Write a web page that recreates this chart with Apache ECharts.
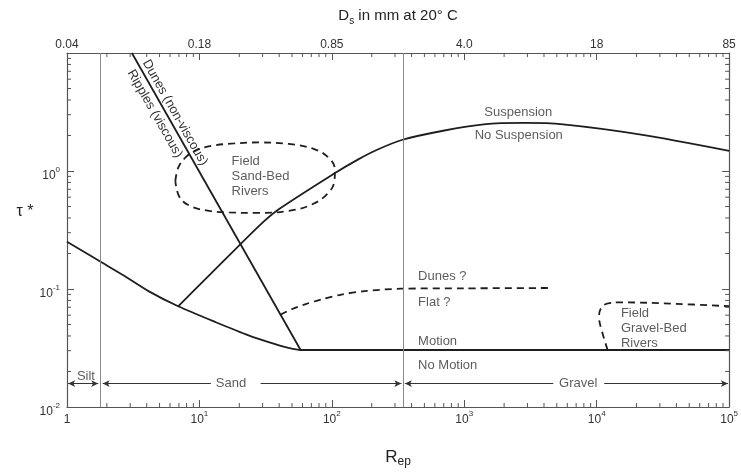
<!DOCTYPE html>
<html>
<head>
<meta charset="utf-8">
<script src="https://cdn.jsdelivr.net/npm/echarts@6.0.0/dist/echarts.min.js"></script>
</head>
<body style="margin: 0">
<div id="container" style="width: 741px; height: 473px;"></div>
<script>
// top axis: grain size (mm at 20 C) at each decade of Rep
const dsDecades = [1, 10, 100, 1000, 10000, 100000];
const dsLabels = ['0.04', '0.18', '0.85', '4.0', '18', '85'];

// threshold of motion
const motionRep = [1, 1.77, 2.72, 4.19, 6.91, 13.3, 23.5, 37.3, 46.9, 58.1, 300, 3000, 100000];
const motionTau = [0.2515, 0.1717, 0.129, 0.095, 0.0714, 0.0523, 0.0405, 0.0341, 0.0317, 0.0304, 0.0304, 0.0304, 0.0304];

// suspension / no suspension
const suspRep = [6.91, 12.0, 28.1, 39.5, 102, 157, 222, 342, 693, 1400, 2810, 5570, 22200, 100000];
const suspTau = [0.0714, 0.1322, 0.3413, 0.472, 0.938, 1.249, 1.521, 1.84, 2.193, 2.483, 2.555, 2.483, 2.024, 1.483];

// ripples / dunes boundary
const rippleRep = [3.09, 58.1];
const rippleTau = [10, 0.0304];

// dunes ? / flat ?
const dunesRep = [41.0, 49.7, 62.7, 83.4, 118, 176, 332, 1000, 4300];
const dunesTau = [0.0605, 0.0674, 0.0742, 0.0816, 0.0897, 0.0959, 0.1006, 0.1013, 0.102];

// field sand-bed rivers (closed loop)
const sandRep = [6.58, 6.93, 7.82, 9.3, 12.27, 18.25, 28.1, 47.2, 72.8, 94.3, 105.5, 104.6, 92.7, 70.3, 47.2, 28.1, 16.74, 11.25, 8.38, 7.05, 6.58];
const sandTau = [0.821, 1.072, 1.298, 1.483, 1.632, 1.712, 1.745, 1.695, 1.541, 1.298, 1.032, 0.821, 0.6408, 0.519, 0.4587, 0.4416, 0.4458, 0.4631, 0.5094, 0.6049, 0.821];

// field gravel-bed rivers
const gravelRep = [12100, 10980, 10420, 10790, 12180, 15240, 39360, 100000];
const gravelTau = [0.0304, 0.0435, 0.0579, 0.0687, 0.0756, 0.077, 0.0749, 0.0714];

// silt / sand / gravel limits
const classBounds = [1.77, 345];
const classArrowTau = 0.0158;
const classSegFrom = [1.02, 1.86, 29.0, 356, 11400];
const classSegTo = [1.72, 12.2, 335, 4700, 98000];
const classSegArrowFrom = [true, true, false, true, false];
const classSegArrowTo = [true, false, true, false, true];

// region labels: [Rep, tau, text, align]
const regionLabels = [
  [2560, 3.163, 'Suspension', 'center'],
  [2580, 1.986, 'No Suspension', 'center'],
  [448, 0.1272, 'Dunes ?', 'left'],
  [448, 0.0766, 'Flat ?', 'left'],
  [448, 0.0357, 'Motion', 'left'],
  [448, 0.0224, 'No Motion', 'left'],
  [17.5, 0.898, 'Field\nSand-Bed\nRivers', 'left'],
  [15240, 0.0466, 'Field\nGravel-Bed\nRivers', 'left'],
  [1.39, 0.0183, 'Silt', 'center'],
  [17.3, 0.0158, 'Sand', 'center'],
  [7256, 0.0158, 'Gravel', 'center']
];

// points on the ripples / dunes line next to which its two labels sit
const dunesLabelAt = [5.79, 2.893];
const ripplesLabelAt = [5.36, 3.37];

const FONT = 'Liberation Sans, Arial, sans-serif';
const solid = { color: '#1e1e1e', width: 1.8 };
const dashed = { color: '#1e1e1e', width: 1.8, type: [7, 5] };

function pairs(xs, ys) {
  return xs.map((x, i) => [x, ys[i]]);
}

// minor log ticks on all four sides
const minorTicks = [];
for (let e = 0; e < 5; e++) {
  for (let m = 2; m <= 9; m++) {
    const v = m * Math.pow(10, e);
    minorTicks.push([v, 0.01, 0], [v, 10, 1]);
  }
}
for (let e = -2; e < 1; e++) {
  for (let m = 2; m <= 9; m++) {
    const v = m * Math.pow(10, e);
    minorTicks.push([1, v, 2], [100000, v, 3]);
  }
}

const supRich = {
  s: { fontSize: 8, verticalAlign: 'top', lineHeight: 10, color: '#333', fontFamily: FONT }
};

const axisCommon = {
  type: 'log',
  logBase: 10,
  axisLine: { show: true, onZero: false, lineStyle: { color: '#555', width: 1.2 } },
  axisTick: { show: true, inside: true, length: 7, lineStyle: { color: '#555' } },
  splitLine: { show: false },
  minorTick: { show: false }
};

var myChart = echarts.init(document.getElementById('container'), null, { renderer: 'canvas' });

var option = {
  animation: false,
  textStyle: { fontFamily: FONT },
  grid: { left: 67, right: 8, top: 53, bottom: 58 },
  xAxis: [
    Object.assign({}, axisCommon, {
      position: 'bottom',
      min: 1,
      max: 100000,
      axisLabel: {
        color: '#333', fontSize: 12, lineHeight: 20, margin: 3,
        formatter: function (v) {
          const e = Math.round(Math.log10(v));
          return e === 0 ? '1' : '10{s|' + e + '}';
        },
        rich: supRich
      },
      name: 'R{s|ep}',
      nameLocation: 'middle',
      nameGap: 39,
      nameTextStyle: {
        color: '#222', fontSize: 17, lineHeight: 22,
        rich: { s: { fontSize: 12, verticalAlign: 'bottom', lineHeight: 12, color: '#222', fontFamily: FONT } }
      }
    }),
    Object.assign({}, axisCommon, {
      position: 'top',
      min: 1,
      max: 100000,
      axisLabel: {
        color: '#333', fontSize: 12, margin: 2,
        formatter: function (v) {
          return dsLabels[dsDecades.indexOf(Math.round(v))];
        }
      },
      name: 'D{s|s} in mm at 20° C',
      nameLocation: 'middle',
      nameGap: 27,
      nameTextStyle: {
        color: '#222', fontSize: 15, lineHeight: 20,
        rich: { s: { fontSize: 10, verticalAlign: 'bottom', lineHeight: 10, color: '#222', fontFamily: FONT } }
      }
    })
  ],
  yAxis: [
    Object.assign({}, axisCommon, {
      position: 'left',
      min: 0.01,
      max: 10,
      axisLabel: {
        color: '#333', fontSize: 12, lineHeight: 20, margin: 7, padding: [10, 0, 0, 0],
        formatter: function (v) {
          const e = Math.round(Math.log10(v));
          return e === 1 ? '' : '10{s|' + e + '}';
        },
        rich: supRich
      }
    }),
    Object.assign({}, axisCommon, {
      position: 'right',
      min: 0.01,
      max: 10,
      axisLabel: { show: false }
    })
  ],
  series: [
    {
      type: 'line', data: pairs(motionRep, motionTau), smooth: 0.25,
      symbol: 'none', lineStyle: solid, silent: true
    },
    {
      type: 'line', data: pairs(suspRep, suspTau), smooth: 0.25,
      symbol: 'none', lineStyle: solid, silent: true
    },
    {
      type: 'line', data: pairs(rippleRep, rippleTau),
      symbol: 'none', lineStyle: solid, silent: true
    },
    {
      type: 'line', data: pairs(dunesRep, dunesTau), smooth: 0.3,
      symbol: 'none', lineStyle: dashed, silent: true
    },
    {
      type: 'line', data: pairs(sandRep, sandTau), smooth: 0.4,
      symbol: 'none', lineStyle: dashed, silent: true
    },
    {
      type: 'line', data: pairs(gravelRep, gravelTau), smooth: 0.4,
      symbol: 'none', lineStyle: dashed, silent: true
    },
    {
      // silt/sand and sand/gravel limits
      type: 'line', data: [],
      markLine: {
        silent: true, symbol: 'none', label: { show: false },
        lineStyle: { color: '#8a8a8a', width: 1, type: 'solid' },
        data: classBounds.map(v => ({ xAxis: v }))
      }
    },
    {
      // size class arrows
      type: 'line', data: [],
      markLine: {
        silent: true, symbolSize: [5, 7], label: { show: false },
        lineStyle: { color: '#333', width: 1, type: 'solid' },
        data: classSegFrom.map((f, i) => [
          { coord: [f, classArrowTau], symbol: classSegArrowFrom[i] ? 'arrow' : 'none' },
          { coord: [classSegTo[i], classArrowTau], symbol: classSegArrowTo[i] ? 'arrow' : 'none' }
        ])
      }
    },
    {
      type: 'scatter', symbolSize: 0, silent: true,
      data: regionLabels.map(r => ({
        value: [r[0], r[1]],
        label: {
          show: true, position: [0, 0], formatter: r[2], align: r[3],
          verticalAlign: 'middle', color: '#333', fontSize: 13, lineHeight: 15, fontFamily: FONT
        }
      }))
    },
    {
      type: 'custom', silent: true, data: minorTicks, z: 5,
      renderItem: function (params, api) {
        const p = api.coord([api.value(0), api.value(1)]);
        const side = api.value(2);
        const L = 4;
        const dx = side === 2 ? L : side === 3 ? -L : 0;
        const dy = side === 0 ? -L : side === 1 ? L : 0;
        return {
          type: 'line',
          shape: { x1: p[0], y1: p[1], x2: p[0] + dx, y2: p[1] + dy },
          style: { stroke: '#555', lineWidth: 1 }
        };
      }
    }
  ]
};

myChart.setOption(option);

// rotated labels along the ripples / dunes line
const p1 = myChart.convertToPixel({ gridIndex: 0 }, [rippleRep[0], rippleTau[0]]);
const p2 = myChart.convertToPixel({ gridIndex: 0 }, [rippleRep[1], rippleTau[1]]);
const ang = Math.atan2(p2[1] - p1[1], p2[0] - p1[0]);
const nx = Math.sin(ang), ny = -Math.cos(ang);
const dAt = myChart.convertToPixel({ gridIndex: 0 }, dunesLabelAt);
const rAt = myChart.convertToPixel({ gridIndex: 0 }, ripplesLabelAt);
myChart.setOption({
  graphic: [
    {
      type: 'text', x: dAt[0] + nx * 8, y: dAt[1] + ny * 8, rotation: -ang, silent: true,
      style: { text: 'Dunes (non-viscous)', fill: '#333', font: '13px ' + FONT, align: 'center', verticalAlign: 'middle' }
    },
    {
      type: 'text', x: rAt[0] - nx * 10, y: rAt[1] - ny * 10, rotation: -ang, silent: true,
      style: { text: 'Ripples (viscous)', fill: '#333', font: '13px ' + FONT, align: 'center', verticalAlign: 'middle' }
    },
    {
      type: 'text', x: 25, y: 212, silent: true,
      style: { text: 'τ *', fill: '#222', font: '16px ' + FONT, align: 'center', verticalAlign: 'middle' }
    }
  ]
});
</script>
</body>
</html>
